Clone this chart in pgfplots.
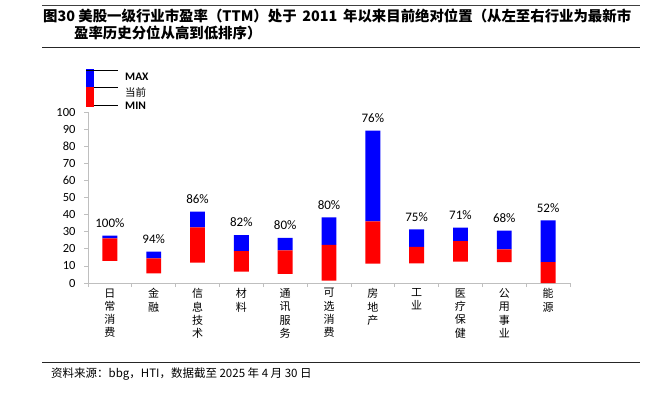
\documentclass[border=0pt]{standalone}
\usepackage{fontspec}
\setmainfont{Carlito}
\newfontfamily\cjk{Noto Sans CJK SC}
\usepackage{pgfplots}
\usepackage{pgfplotstable}
\pgfplotsset{compat=1.18}
\definecolor{bblue}{RGB}{0,0,255}
\definecolor{bred}{RGB}{255,0,0}
\definecolor{axgray}{RGB}{191,191,191}

\pgfplotstableread{
x  min   cur   max   lab
0  12.9  26.2  27.7  100
1  5.7   14.5  18.4  94
2  11.9  32.6  41.8  86
3  6.6   18.7  28.1  82
4  5.3   19.1  26.5  80
5  1.4   22.3  38.5  80
6  11.3  36.1  89.2  76
7  11.5  21.1  31.4  75
8  12.5  24.6  32.4  71
9  12.3  19.7  30.7  68
10 0.0   12.3  36.7  52
}\datatable

\pgfplotsset{common/.style={
  at={(88bp,-283bp)}, anchor=south west,
  scale only axis, width=482bp, height=170.7bp,
  xmin=-0.5, xmax=10.5, ymin=0, ymax=100,
  enlargelimits=false, clip=false}}

\begin{document}
\begin{tikzpicture}
\useasboundingbox (0,0) rectangle (662bp,-396bp);
% rules
\draw[black!75, line width=0.8bp] (42bp,-5.7bp) -- (640bp,-5.7bp);
\draw[black!85, line width=0.9bp] (42bp,-47bp) -- (640bp,-47bp);
\draw[black!85, line width=0.9bp] (42bp,-362bp) -- (640bp,-362bp);
% title
\node[anchor=west, inner sep=0, font=\cjk\bfseries\fontsize{14.4bp}{16bp}\selectfont] at (43bp,-16bp) {图30 美股一级行业市盈率（TTM）处于\,  2011\,  年以来目前绝对位置（从左至右行业为最新市};
\node[anchor=west, inner sep=0, font=\cjk\bfseries\fontsize{14.4bp}{16bp}\selectfont] at (74bp,-33bp) {盈率历史分位从高到低排序）};
% footnote
\node[anchor=west, inner sep=0, font=\cjk\fontsize{11.5bp}{13bp}\selectfont] at (51bp,-374bp) {资料来源：bbg，HTI，数据截至 2025 年 4 月 30 日};

\begin{axis}[common,
  ybar stacked, bar width=0.34,
  axis x line*=bottom, axis y line*=left,
  axis line style={axgray, line width=0.8bp},
  tick style={axgray, line width=0.8bp},
  major tick length=4bp,
  tick align=outside,
  ytick={0,10,...,100},
  yticklabel style={font=\fontsize{12.5bp}{14bp}\selectfont, xshift=-5bp},
  /pgf/number format/assume math mode=true,
  xtick={-0.5,0.5,...,10.5},
  xticklabels={},
  extra x ticks={0,1,...,10},
  extra x tick style={major tick length=0pt, tick label style={align=center, anchor=north, yshift=-2bp, font=\cjk\fontsize{11bp}{13.3bp}\selectfont}},
  extra x tick labels={{日\\常\\消\\费},{金\\融},{信\\息\\技\\术},{材\\料},{通\\讯\\服\\务},{可\\选\\消\\费},{房\\地\\产},{工\\业},{医\\疗\\保\\健},{公\\用\\事\\业},{能\\源}},
]
\addplot[draw=none, fill=none, forget plot] table[x=x, y=min] {\datatable};
\addplot[draw=none, fill=bred] table[x=x, y expr=\thisrow{cur}-\thisrow{min}] {\datatable};
\addplot[draw=none, fill=bblue] table[x=x, y expr=\thisrow{max}-\thisrow{cur}] {\datatable};
\end{axis}

\begin{axis}[common, hide axis]
\addplot[draw=none, mark=none,
  point meta=explicit symbolic,
  nodes near coords={\pgfplotspointmeta\%},
  every node near coord/.append style={font=\fontsize{13bp}{14bp}\selectfont, anchor=south, yshift=4.5bp, black}]
  table[x=x, y=max, meta=lab] {\datatable};
\end{axis}

% legend
\fill[bblue] (86bp,-69bp) rectangle (94bp,-87bp);
\fill[bred] (86bp,-87bp) rectangle (94bp,-106.5bp);
\draw[black, line width=0.8bp] (86bp,-70bp) -- (118bp,-70bp);
\draw[black, line width=0.8bp] (94bp,-87bp) -- (118bp,-87bp);
\draw[black, line width=0.8bp] (94bp,-105.5bp) -- (118bp,-105.5bp);
\node[anchor=west, inner sep=0, font=\bfseries\fontsize{11.5bp}{12bp}\selectfont] at (125bp,-77bp) {MAX};
\node[anchor=west, inner sep=0, font=\cjk\fontsize{10.5bp}{12bp}\selectfont] at (125bp,-92bp) {当前};
\node[anchor=west, inner sep=0, font=\bfseries\fontsize{11.5bp}{12bp}\selectfont] at (125bp,-106bp) {MIN};
\end{tikzpicture}
\end{document}
